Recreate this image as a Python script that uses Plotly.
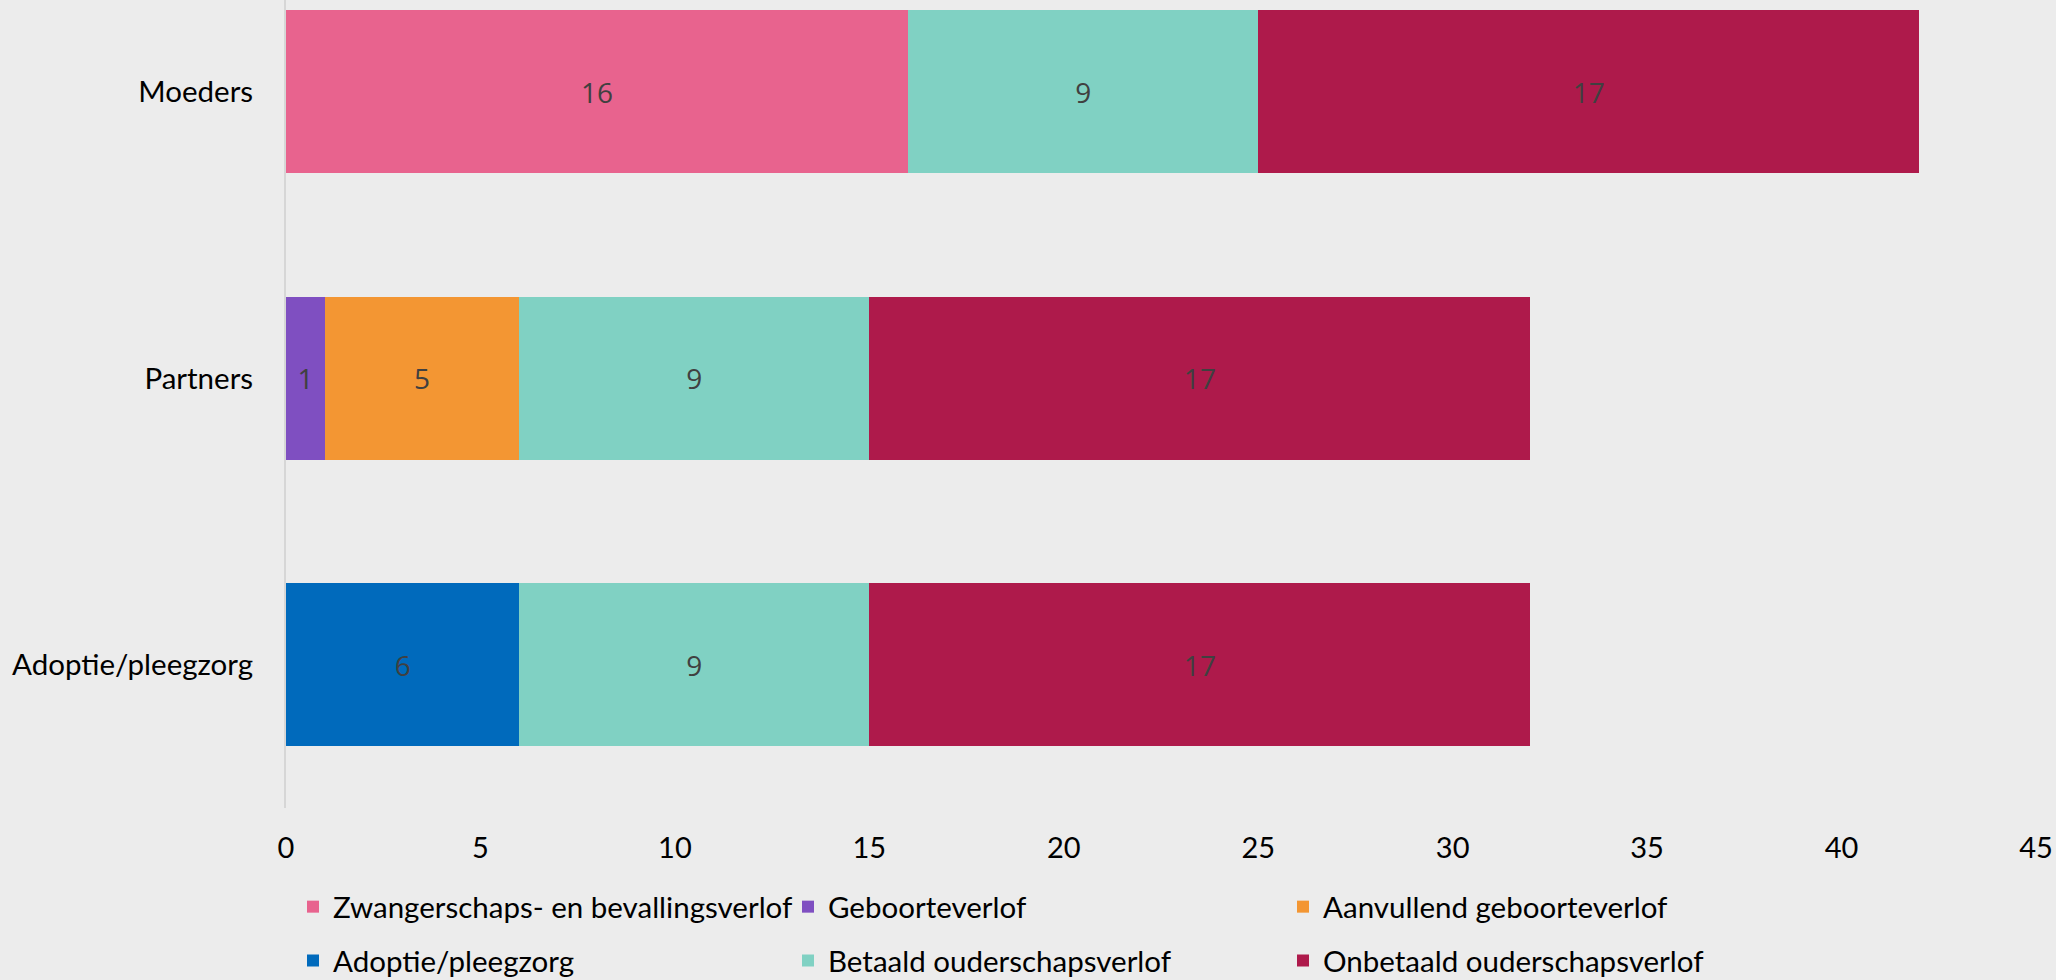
import plotly.graph_objects as go

categories = ["Adoptie/pleegzorg", "Partners", "Moeders"]
series_names = [
    "Zwangerschaps- en bevallingsverlof",
    "Geboorteverlof",
    "Aanvullend geboorteverlof",
    "Adoptie/pleegzorg",
    "Betaald ouderschapsverlof",
    "Onbetaald ouderschapsverlof",
]
zwangerschap = [None, None, 16]
geboorte = [None, 1, None]
aanvullend = [None, 5, None]
adoptie = [6, None, None]
betaald = [9, 9, 9]
onbetaald = [17, 17, 17]
x_ticks = [0, 5, 10, 15, 20, 25, 30, 35, 40, 45]

colors = ["#E8638E", "#7F4FC1", "#F39633", "#006ABC", "#80D1C3", "#AE1A4B"]
values = [zwangerschap, geboorte, aanvullend, adoptie, betaald, onbetaald]
legend_rows = ["legend", "legend", "legend", "legend2", "legend2", "legend2"]

fig = go.Figure()
for name, vals, col, lg in zip(series_names, values, colors, legend_rows):
    fig.add_trace(go.Bar(
        y=categories, x=vals, name=name, orientation="h",
        marker=dict(color=col, line=dict(width=0)),
        text=[("" if v is None else str(v)) for v in vals],
        textposition="inside", insidetextanchor="middle",
        textfont=dict(family="Open Sans", size=28, color="#404040"),
        constraintext="none", legend=lg,
    ))

legend_common = dict(
    orientation="h", x=0.004, xanchor="left", yanchor="middle",
    entrywidth=450, entrywidthmode="pixels",
    font=dict(family="Lato", size=29.5, color="#000000"),
    traceorder="normal", bgcolor="rgba(0,0,0,0)",
)

fig.update_layout(
    barmode="stack",
    bargap=0.43,
    width=2056, height=980,
    paper_bgcolor="#ECECEC", plot_bgcolor="#ECECEC",
    margin=dict(l=286, r=20, t=0, b=172, autoexpand=False),
    font=dict(family="Lato", size=29, color="#000000"),
    showlegend=True,
    legend=dict(y=-0.1225, **legend_common),
    legend2=dict(y=-0.189, **legend_common),
)
fig.update_xaxes(
    range=[0, 45], tickvals=x_ticks, ticktext=[str(t) for t in x_ticks],
    showgrid=False, zeroline=False, showline=False,
    ticks="outside", ticklen=14, tickcolor="rgba(0,0,0,0)",
    tickfont=dict(family="Lato", size=29, color="#000000"),
)
fig.update_yaxes(
    categoryorder="array", categoryarray=categories,
    range=[-0.5, 2.32],
    showgrid=False, zeroline=False,
    showline=True, linecolor="#D6D6D6", linewidth=2,
    ticks="outside", ticklen=25, tickcolor="rgba(0,0,0,0)",
    tickfont=dict(family="Lato", size=29.5, color="#000000"),
)

fig.write_html(
    "out.html",
    config={"displayModeBar": False},
    post_script="document.body.style.margin='0';document.body.style.background='#ECECEC';",
)
